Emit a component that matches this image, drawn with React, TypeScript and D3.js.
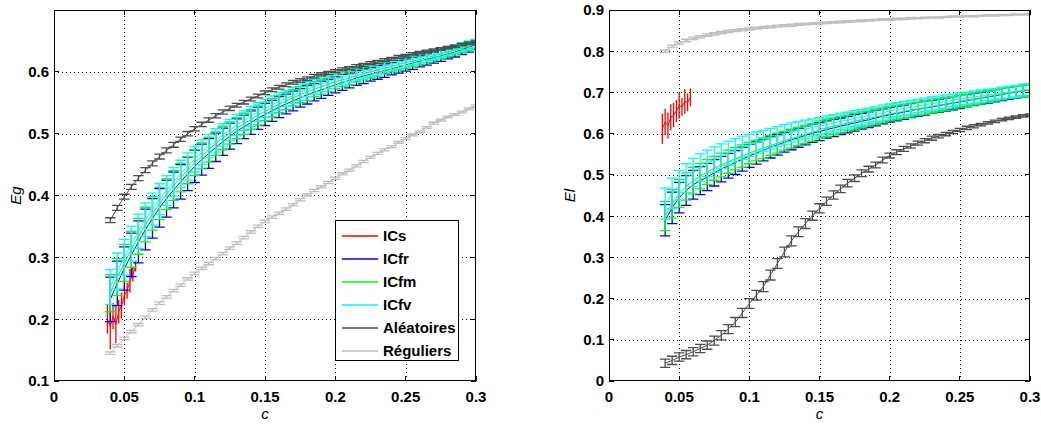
import React from "react";
import * as d3 from "d3";

// ---------- data ----------
const C = [0.04,0.045,0.05,0.055,0.06,0.065,0.07,0.075,0.08,0.085,0.09,0.095,0.1,0.105,0.11,0.115,0.12,0.125,0.13,0.135,0.14,0.145,0.15,0.155,0.16,0.165,0.17,0.175,0.18,0.185,0.19,0.195,0.2,0.205,0.21,0.215,0.22,0.225,0.23,0.235,0.24,0.245,0.25,0.255,0.26,0.265,0.27,0.275,0.28,0.285,0.29,0.295,0.3];
const C_S = [0.038,0.040,0.042,0.044,0.046,0.048,0.050,0.052,0.054,0.056,0.058];

// Left panel : Eg
const ICS_EG = [0.200,0.188,0.205,0.192,0.212,0.222,0.238,0.246,0.262,0.272,0.286];
const ICS_EG_ERR = [0.022,0.035,0.020,0.030,0.018,0.020,0.015,0.012,0.018,0.010,0.008];
const ICFR_EG = [0.232,0.258,0.282,0.304,0.325,0.345,0.363,0.380,0.395,0.409,0.422,0.435,0.447,0.458,0.468,0.478,0.487,0.496,0.504,0.511,0.518,0.525,0.531,0.537,0.543,0.548,0.553,0.558,0.563,0.567,0.571,0.575,0.579,0.583,0.586,0.590,0.593,0.596,0.599,0.602,0.605,0.608,0.611,0.614,0.617,0.620,0.623,0.626,0.629,0.632,0.636,0.640,0.644];
const ICFR_EG_ERR = [0.036,0.036,0.035,0.035,0.034,0.033,0.032,0.031,0.030,0.029,0.028,0.027,0.026,0.025,0.024,0.023,0.022,0.021,0.020,0.019,0.019,0.018,0.018,0.017,0.017,0.016,0.016,0.015,0.015,0.014,0.014,0.013,0.013,0.013,0.012,0.012,0.012,0.011,0.011,0.011,0.010,0.010,0.010,0.010,0.009,0.009,0.009,0.009,0.008,0.008,0.008,0.008,0.008];
const ICFM_EG = [0.242,0.268,0.291,0.313,0.334,0.353,0.371,0.387,0.402,0.416,0.429,0.441,0.453,0.464,0.474,0.484,0.493,0.501,0.509,0.516,0.523,0.530,0.536,0.542,0.548,0.553,0.558,0.563,0.567,0.572,0.576,0.580,0.584,0.587,0.590,0.594,0.597,0.600,0.603,0.606,0.609,0.612,0.615,0.617,0.620,0.623,0.626,0.629,0.632,0.635,0.638,0.641,0.645];
const ICFM_EG_ERR = [0.030,0.030,0.030,0.029,0.029,0.028,0.027,0.026,0.025,0.024,0.023,0.022,0.021,0.021,0.020,0.019,0.019,0.018,0.017,0.017,0.016,0.016,0.015,0.015,0.014,0.014,0.013,0.013,0.013,0.012,0.012,0.012,0.011,0.011,0.011,0.010,0.010,0.010,0.010,0.009,0.009,0.009,0.009,0.008,0.008,0.008,0.008,0.008,0.007,0.007,0.007,0.007,0.007];
const ICFV_EG = [0.252,0.278,0.300,0.322,0.342,0.361,0.378,0.394,0.408,0.422,0.435,0.447,0.459,0.470,0.480,0.489,0.498,0.506,0.514,0.521,0.528,0.535,0.541,0.547,0.552,0.557,0.562,0.567,0.572,0.576,0.580,0.584,0.588,0.591,0.594,0.597,0.600,0.603,0.606,0.609,0.612,0.615,0.618,0.620,0.623,0.626,0.628,0.631,0.634,0.637,0.640,0.643,0.646];
const ICFV_EG_ERR = [0.028,0.029,0.029,0.028,0.028,0.027,0.026,0.025,0.024,0.023,0.022,0.022,0.021,0.020,0.019,0.019,0.018,0.017,0.017,0.016,0.016,0.015,0.015,0.014,0.014,0.013,0.013,0.013,0.012,0.012,0.012,0.011,0.011,0.011,0.010,0.010,0.010,0.010,0.009,0.009,0.009,0.009,0.008,0.008,0.008,0.008,0.008,0.007,0.007,0.007,0.007,0.007,0.007];
const ALE_EG = [0.360,0.380,0.398,0.414,0.428,0.441,0.452,0.463,0.473,0.482,0.491,0.500,0.508,0.515,0.522,0.529,0.535,0.541,0.546,0.551,0.556,0.561,0.566,0.571,0.575,0.579,0.583,0.586,0.589,0.593,0.596,0.598,0.601,0.604,0.606,0.609,0.611,0.614,0.616,0.619,0.621,0.624,0.626,0.629,0.631,0.633,0.635,0.637,0.639,0.641,0.644,0.646,0.648];
const ALE_EG_ERR = [0.004,0.004,0.004,0.004,0.004,0.004,0.004,0.004,0.004,0.004,0.0035,0.0035,0.0035,0.0035,0.0035,0.0035,0.0035,0.0035,0.003,0.003,0.003,0.003,0.003,0.003,0.003,0.003,0.003,0.003,0.003,0.003,0.0025,0.0025,0.0025,0.0025,0.0025,0.0025,0.0025,0.0025,0.0025,0.0025,0.0025,0.0025,0.002,0.002,0.002,0.002,0.002,0.002,0.002,0.002,0.002,0.002,0.002];
const REG_EG = [0.145,0.157,0.169,0.180,0.191,0.203,0.215,0.226,0.236,0.246,0.255,0.265,0.274,0.282,0.290,0.298,0.306,0.315,0.323,0.332,0.341,0.350,0.358,0.365,0.371,0.378,0.385,0.393,0.401,0.408,0.414,0.421,0.428,0.435,0.441,0.448,0.455,0.462,0.468,0.474,0.479,0.486,0.492,0.498,0.503,0.510,0.517,0.522,0.527,0.531,0.535,0.540,0.545];
const REG_EG_ERR = [0.002,0.002,0.002,0.002,0.002,0.002,0.002,0.002,0.002,0.002,0.002,0.002,0.002,0.002,0.002,0.002,0.002,0.002,0.002,0.002,0.002,0.002,0.002,0.002,0.002,0.002,0.0018,0.0018,0.0018,0.0018,0.0018,0.0018,0.0018,0.0018,0.0018,0.0018,0.0018,0.0018,0.0018,0.0018,0.0015,0.0015,0.0015,0.0015,0.0015,0.0015,0.0015,0.0015,0.0015,0.0015,0.0015,0.0015,0.0015];

// Right panel : El
const ICS_EL = [0.612,0.628,0.620,0.640,0.645,0.655,0.668,0.665,0.678,0.676,0.688];
const ICS_EL_ERR = [0.035,0.030,0.030,0.030,0.028,0.025,0.030,0.020,0.028,0.020,0.020];
const ICFR_EL = [0.390,0.420,0.445,0.462,0.476,0.486,0.495,0.505,0.514,0.522,0.530,0.538,0.546,0.553,0.560,0.567,0.573,0.579,0.585,0.590,0.596,0.601,0.605,0.610,0.614,0.618,0.622,0.626,0.630,0.634,0.638,0.642,0.646,0.649,0.652,0.656,0.659,0.662,0.665,0.668,0.671,0.674,0.677,0.680,0.683,0.686,0.689,0.692,0.695,0.698,0.701,0.704,0.706];
const ICFR_EL_ERR = [0.038,0.038,0.037,0.036,0.035,0.034,0.033,0.032,0.031,0.030,0.029,0.029,0.028,0.027,0.026,0.026,0.025,0.024,0.024,0.023,0.023,0.022,0.022,0.021,0.021,0.020,0.020,0.020,0.019,0.019,0.019,0.018,0.018,0.018,0.017,0.017,0.017,0.017,0.016,0.016,0.016,0.016,0.016,0.015,0.015,0.015,0.015,0.015,0.015,0.015,0.015,0.015,0.015];
const ICFM_EL = [0.400,0.430,0.455,0.472,0.486,0.497,0.507,0.516,0.524,0.532,0.539,0.546,0.553,0.559,0.565,0.571,0.577,0.583,0.588,0.593,0.598,0.603,0.610,0.614,0.618,0.622,0.626,0.630,0.634,0.637,0.641,0.644,0.648,0.651,0.654,0.657,0.660,0.663,0.666,0.669,0.672,0.675,0.678,0.681,0.684,0.687,0.690,0.693,0.696,0.699,0.701,0.703,0.705];
const ICFM_EL_ERR = [0.035,0.035,0.034,0.033,0.032,0.031,0.030,0.029,0.029,0.028,0.027,0.027,0.026,0.025,0.025,0.024,0.024,0.023,0.023,0.022,0.022,0.021,0.021,0.021,0.020,0.020,0.019,0.019,0.019,0.018,0.018,0.018,0.017,0.017,0.017,0.017,0.016,0.016,0.016,0.016,0.016,0.015,0.015,0.015,0.015,0.015,0.014,0.014,0.014,0.014,0.014,0.014,0.014];
const ICFV_EL = [0.430,0.455,0.475,0.492,0.506,0.518,0.528,0.537,0.545,0.553,0.560,0.566,0.572,0.578,0.583,0.588,0.593,0.598,0.603,0.607,0.611,0.615,0.618,0.622,0.626,0.630,0.633,0.637,0.640,0.644,0.647,0.651,0.655,0.658,0.661,0.664,0.667,0.670,0.673,0.675,0.678,0.681,0.684,0.686,0.689,0.691,0.694,0.696,0.699,0.701,0.703,0.706,0.708];
const ICFV_EL_ERR = [0.038,0.037,0.036,0.035,0.034,0.033,0.032,0.031,0.030,0.029,0.028,0.028,0.027,0.026,0.025,0.025,0.024,0.024,0.023,0.022,0.022,0.021,0.021,0.021,0.020,0.020,0.019,0.019,0.019,0.018,0.018,0.018,0.017,0.017,0.017,0.017,0.016,0.016,0.016,0.016,0.016,0.015,0.015,0.015,0.015,0.015,0.014,0.014,0.014,0.014,0.014,0.014,0.014];
const ALE_EL = [0.043,0.050,0.058,0.064,0.071,0.079,0.087,0.098,0.111,0.126,0.143,0.165,0.188,0.208,0.229,0.257,0.285,0.313,0.340,0.362,0.382,0.401,0.419,0.436,0.451,0.466,0.480,0.492,0.504,0.514,0.524,0.536,0.547,0.555,0.563,0.570,0.577,0.583,0.589,0.594,0.599,0.604,0.609,0.614,0.618,0.622,0.626,0.630,0.634,0.637,0.640,0.643,0.645];
const ALE_EL_ERR = [0.010,0.010,0.010,0.010,0.010,0.010,0.010,0.011,0.011,0.011,0.011,0.011,0.012,0.012,0.012,0.012,0.012,0.012,0.012,0.012,0.012,0.011,0.011,0.010,0.010,0.009,0.009,0.008,0.008,0.007,0.007,0.007,0.006,0.006,0.006,0.005,0.005,0.005,0.005,0.004,0.004,0.004,0.004,0.004,0.004,0.003,0.003,0.003,0.003,0.003,0.003,0.003,0.003];
const REG_EL = [0.800,0.812,0.820,0.826,0.831,0.835,0.839,0.842,0.845,0.848,0.850,0.852,0.854,0.856,0.858,0.859,0.861,0.862,0.863,0.865,0.866,0.867,0.868,0.869,0.870,0.871,0.872,0.873,0.874,0.875,0.876,0.877,0.877,0.878,0.879,0.880,0.880,0.881,0.882,0.882,0.883,0.884,0.884,0.885,0.885,0.886,0.887,0.887,0.888,0.888,0.889,0.889,0.890];
const REG_EL_ERR = [0.003,0.003,0.003,0.003,0.003,0.003,0.003,0.003,0.003,0.003,0.0025,0.0025,0.0025,0.0025,0.0025,0.0025,0.0025,0.0025,0.0025,0.0025,0.002,0.002,0.002,0.002,0.002,0.002,0.002,0.002,0.002,0.002,0.002,0.002,0.002,0.002,0.002,0.002,0.0015,0.0015,0.0015,0.0015,0.0015,0.0015,0.0015,0.0015,0.0015,0.0015,0.0015,0.0015,0.0015,0.0015,0.0015,0.0015,0.0015];

const SERIES_NAMES = ["ICs", "ICfr", "ICfm", "ICfv", "Aléatoires", "Réguliers"];
const SERIES_COLORS = ["#ff0000", "#0000ff", "#00ff00", "#00ffff", "#4d4d4d", "#bfbfbf"];

const X_TICKS = [0, 0.05, 0.1, 0.15, 0.2, 0.25, 0.3];
const X_TICK_LABELS = ["0", "0.05", "0.1", "0.15", "0.2", "0.25", "0.3"];
const EG_TICKS = [0.1, 0.2, 0.3, 0.4, 0.5, 0.6];
const EG_TICK_LABELS = ["0.1", "0.2", "0.3", "0.4", "0.5", "0.6"];
const EL_TICKS = [0, 0.1, 0.2, 0.3, 0.4, 0.5, 0.6, 0.7, 0.8, 0.9];
const EL_TICK_LABELS = ["0", "0.1", "0.2", "0.3", "0.4", "0.5", "0.6", "0.7", "0.8", "0.9"];

const FONT = "'Liberation Sans', Arial, Helvetica, sans-serif";

type Series = { name: string; color: string; x: number[]; y: number[]; e: number[] };

function mkSeries(vals: [number[], number[], number[]][]): Series[] {
  return vals.map((v, i) => ({ name: SERIES_NAMES[i], color: SERIES_COLORS[i], x: v[0], y: v[1], e: v[2] }));
}

const LEFT_SERIES = mkSeries([
  [C_S, ICS_EG, ICS_EG_ERR],
  [C, ICFR_EG, ICFR_EG_ERR],
  [C, ICFM_EG, ICFM_EG_ERR],
  [C, ICFV_EG, ICFV_EG_ERR],
  [C, ALE_EG, ALE_EG_ERR],
  [C, REG_EG, REG_EG_ERR],
]);
const RIGHT_SERIES = mkSeries([
  [C_S, ICS_EL, ICS_EL_ERR],
  [C, ICFR_EL, ICFR_EL_ERR],
  [C, ICFM_EL, ICFM_EL_ERR],
  [C, ICFV_EL, ICFV_EL_ERR],
  [C, ALE_EL, ALE_EL_ERR],
  [C, REG_EL, REG_EL_ERR],
]);

type PanelProps = {
  id: string;
  x0: number; x1: number; y0: number; y1: number;
  yDomain: [number, number];
  yTicks: number[]; yTickLabels: string[];
  yLabel: string; yLabelX: number;
  series: Series[];
  legend: boolean;
};

function Panel(p: PanelProps) {
  const xs = d3.scaleLinear().domain([0, 0.3]).range([p.x0, p.x1]);
  const ys = d3.scaleLinear().domain(p.yDomain).range([p.y1, p.y0]);
  const line = d3.line<[number, number]>().x((d) => xs(d[0])).y((d) => ys(d[1]));
  const tickLen = 5;
  const cy = (p.y0 + p.y1) / 2;
  const cx = (p.x0 + p.x1) / 2;

  return (
    <g>
      <defs>
        <clipPath id={p.id}>
          <rect x={p.x0} y={p.y0} width={p.x1 - p.x0} height={p.y1 - p.y0} />
        </clipPath>
      </defs>
      <rect x={p.x0} y={p.y0} width={p.x1 - p.x0} height={p.y1 - p.y0} fill="#fff" />
      {/* grid */}
      <g stroke="#000" strokeWidth={1} strokeDasharray="1,3" shapeRendering="crispEdges">
        {X_TICKS.filter((t) => t > 0 && t < 0.3).map((t) => (
          <line key={"gx" + t} x1={Math.round(xs(t)) + 0.5} x2={Math.round(xs(t)) + 0.5} y1={p.y1} y2={p.y0} />
        ))}
        {p.yTicks.filter((t) => t > p.yDomain[0] && t < p.yDomain[1]).map((t) => (
          <line key={"gy" + t} x1={p.x0} x2={p.x1} y1={Math.round(ys(t)) + 0.5} y2={Math.round(ys(t)) + 0.5} />
        ))}
      </g>
      {/* series */}
      <g clipPath={`url(#${p.id})`} fill="none">
        {p.series.map((s) => {
          const pts: [number, number][] = s.x.map((x, i) => [x, s.y[i]]);
          const tee = ((d3.max(s.x) as number) - (d3.min(s.x) as number)) / 70;
          const halfCapPx = Math.max(0.7, xs(tee) - xs(0));
          let eb = "";
          s.x.forEach((x, i) => {
            const X = xs(x);
            const lo = ys(s.y[i] - s.e[i]), hi = ys(s.y[i] + s.e[i]);
            eb += `M${X},${lo}V${hi}M${X - halfCapPx},${lo}H${X + halfCapPx}M${X - halfCapPx},${hi}H${X + halfCapPx}`;
          });
          return (
            <g key={s.name} stroke={s.color}>
              <path d={line(pts) || ""} strokeWidth={1} />
              <path d={eb} strokeWidth={1.3} />
            </g>
          );
        })}
      </g>
      {/* box and ticks */}
      <g stroke="#000" strokeWidth={1} shapeRendering="crispEdges">
        <rect x={p.x0 + 0.5} y={p.y0 + 0.5} width={p.x1 - p.x0 - 1} height={p.y1 - p.y0 - 1} fill="none" />
        {X_TICKS.map((t) => (
          <g key={"tx" + t}>
            <line x1={xs(t)} x2={xs(t)} y1={p.y1} y2={p.y1 - tickLen} />
            <line x1={xs(t)} x2={xs(t)} y1={p.y0} y2={p.y0 + tickLen} />
          </g>
        ))}
        {p.yTicks.map((t) => (
          <g key={"ty" + t}>
            <line x1={p.x0} x2={p.x0 + tickLen} y1={ys(t)} y2={ys(t)} />
            <line x1={p.x1} x2={p.x1 - tickLen} y1={ys(t)} y2={ys(t)} />
          </g>
        ))}
      </g>
      {/* tick labels */}
      <g fontFamily={FONT} fontWeight="bold" fontSize={15} fill="#000">
        {X_TICKS.map((t, i) => (
          <text key={"lx" + t} x={xs(t)} y={p.y1 + 21} textAnchor="middle">{X_TICK_LABELS[i]}</text>
        ))}
        {p.yTicks.map((t, i) => (
          <text key={"ly" + t} x={p.x0 - 5} y={ys(t)} dy="0.36em" textAnchor="end">{p.yTickLabels[i]}</text>
        ))}
      </g>
      {/* axis labels */}
      <text x={cx} y={p.y1 + 38} textAnchor="middle" fontFamily={FONT} fontStyle="italic" fontSize={15}>c</text>
      <text transform={`translate(${p.yLabelX},${cy}) rotate(-90)`} textAnchor="middle" fontFamily={FONT} fontStyle="italic" fontSize={15}>{p.yLabel}</text>
      {p.legend && (
        <g>
          <rect x={335.5} y={220.5} width={123} height={140} fill="#fff" stroke="#000" strokeWidth={1} shapeRendering="crispEdges" />
          {p.series.map((s, i) => {
            const yy = 236 + i * 23;
            return (
              <g key={"lg" + s.name}>
                <line x1={342} x2={378} y1={yy} y2={yy} stroke={s.color} strokeWidth={1.6} />
                <text x={383} y={yy} dy="0.36em" fontFamily={FONT} fontWeight="bold" fontSize={15}>{s.name}</text>
              </g>
            );
          })}
        </g>
      )}
    </g>
  );
}

export default function App() {
  return (
    <svg width={1041} height={426} style={{ position: "absolute", left: 0, top: 0, background: "#fff" }}>
      <rect x={0} y={0} width={1041} height={426} fill="#fff" />
      <Panel id="clipL" x0={54} x1={476} y0={10} y1={381} yDomain={[0.1, 0.7]} yTicks={EG_TICKS} yTickLabels={EG_TICK_LABELS} yLabel="Eg" yLabelX={21} series={LEFT_SERIES} legend={true} />
      <Panel id="clipR" x0={609} x1={1030} y0={10} y1={381} yDomain={[0, 0.9]} yTicks={EL_TICKS} yTickLabels={EL_TICK_LABELS} yLabel="El" yLabelX={575} series={RIGHT_SERIES} legend={false} />
    </svg>
  );
}
